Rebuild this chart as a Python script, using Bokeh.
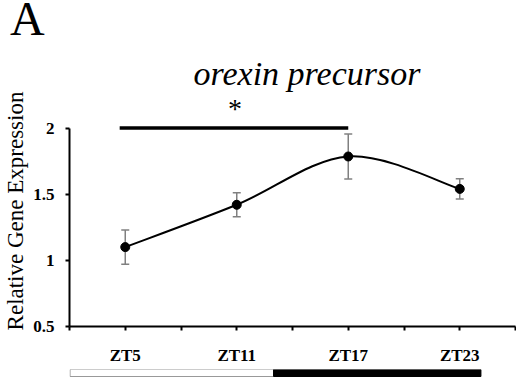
import numpy as np
from bokeh.plotting import figure
from bokeh.models import (ColumnDataSource, Whisker, TeeHead, Label, FixedTicker,
                          NumeralTickFormatter, Range1d, Title, Div)
from bokeh.layouts import column
from bokeh.embed import file_html
from bokeh.resources import INLINE

# ---------------- data ----------------
timepoints = ["ZT5", "ZT11", "ZT17", "ZT23"]
expression = [1.10, 1.42, 1.785, 1.54]
sem = [0.13, 0.09, 0.17, 0.077]
y_ticks = [0.5, 1.0, 1.5, 2.0]
sig_pair = ("ZT5", "ZT17")
sig_label = "*"
title_text = "orexin precursor"
panel_letter = "A"
y_label = "Relative Gene Expression"
# light / dark schedule bar (in the x units of the time axis)
ld_phase = ["light", "dark"]
ld_start = [0.01, 3.66]
ld_end = [3.66, 7.38]

FONT = "Liberation Serif"
W = 516

n = len(timepoints)
xs = [2 * i + 1 for i in range(n)]
lower = [e - s for e, s in zip(expression, sem)]
upper = [e + s for e, s in zip(expression, sem)]

# ---- panel letter ----
letter = Div(text=panel_letter, width=W, height=45,
             styles={"font-family": FONT, "font-size": "48px", "line-height": "38px",
                     "padding-left": "10px", "margin": "0", "color": "black",
                     "background-color": "white"})

# ---- main chart ----
p = figure(width=W, height=322, x_range=Range1d(0, 2 * n), y_range=Range1d(0.5, 2.246),
           output_backend="svg", toolbar_location=None,
           min_border_left=67, min_border_right=1, min_border_top=50, min_border_bottom=38)
p.grid.visible = False
p.outline_line_color = None
p.background_fill_color = "white"
p.border_fill_color = "white"

p.add_layout(Title(text=title_text, text_font=FONT, text_font_style="italic",
                   text_font_size="34px", text_color="black", align="left", offset=124,
                   standoff=8), "above")

# smooth (Excel-like) curve through the points via cubic Beziers
P = np.column_stack([xs, expression]).astype(float)
x0, y0, x1, y1, cx0, cy0, cx1, cy1 = ([] for _ in range(8))
for i in range(n - 1):
    pm = P[i - 1] if i > 0 else P[i]
    pp = P[i + 2] if i + 2 < n else P[i + 1]
    c1 = P[i] + (P[i + 1] - pm) / 6.0
    c2 = P[i + 1] - (pp - P[i]) / 6.0
    x0.append(P[i, 0]); y0.append(P[i, 1]); x1.append(P[i + 1, 0]); y1.append(P[i + 1, 1])
    cx0.append(c1[0]); cy0.append(c1[1]); cx1.append(c2[0]); cy1.append(c2[1])
p.bezier(x0=x0, y0=y0, x1=x1, y1=y1, cx0=cx0, cy0=cy0, cx1=cx1, cy1=cy1,
         line_color="black", line_width=2)

src = ColumnDataSource(dict(x=xs, y=expression, lo=lower, hi=upper))
w = Whisker(source=src, base="x", lower="lo", upper="hi", line_color="#808080", line_width=1.5,
            upper_head=TeeHead(size=8, line_color="#808080", line_width=1.5),
            lower_head=TeeHead(size=8, line_color="#808080", line_width=1.5))
p.add_layout(w)
p.scatter("x", "y", source=src, size=9, color="black")

# significance bar
i0, i1 = timepoints.index(sig_pair[0]), timepoints.index(sig_pair[1])
p.line([xs[i0] - 0.1, xs[i1]], [y_ticks[-1], y_ticks[-1]], line_color="black", line_width=3.5)
p.add_layout(Label(x=(xs[i0] + xs[i1]) / 2 - 0.03, y=2.15, text=sig_label, text_font=FONT,
                   text_font_size="28px", text_color="black", text_align="center",
                   text_baseline="middle"))

# axes
ya = p.yaxis[0]
ya.ticker = FixedTicker(ticks=y_ticks)
ya.formatter = NumeralTickFormatter(format="0.[0]")
ya.bounds = (y_ticks[0], y_ticks[-1])
ya.axis_line_width = 2
ya.major_tick_line_width = 2
ya.major_tick_out = 4
ya.major_tick_in = 0
ya.minor_tick_line_color = None
ya.major_label_text_font = FONT
ya.major_label_text_font_style = "bold"
ya.major_label_text_font_size = "17px"
ya.major_label_text_color = "black"
ya.major_label_standoff = 11
ya.axis_label = y_label
ya.axis_label_text_font = FONT
ya.axis_label_text_font_style = "normal"
ya.axis_label_text_font_size = "23px"
ya.axis_label_text_color = "black"
ya.axis_label_standoff = 2

xa = p.xaxis[0]
xa.ticker = FixedTicker(ticks=list(range(0, 2 * n + 1)))
xa.major_label_overrides = {t: "" for t in range(0, 2 * n + 1)}
xa.major_label_overrides.update({x: t for x, t in zip(xs, timepoints)})
xa.axis_line_width = 2
xa.major_tick_line_width = 2
xa.major_tick_out = 4
xa.major_tick_in = 0
xa.minor_tick_line_color = None
xa.major_label_text_font = FONT
xa.major_label_text_font_style = "bold"
xa.major_label_text_font_size = "17px"
xa.major_label_text_color = "black"
xa.major_label_standoff = 15

# ---- light/dark bar ----
f2 = figure(width=W, height=10, x_range=p.x_range, y_range=Range1d(0, 10),
            output_backend="svg", toolbar_location=None, x_axis_location=None, y_axis_location=None,
            min_border_left=67, min_border_right=1, min_border_top=0, min_border_bottom=0)
f2.grid.visible = False
f2.outline_line_color = None
ld_src = ColumnDataSource(dict(left=ld_start, right=ld_end, phase=ld_phase,
                               fill=["white" if ph == "light" else "black" for ph in ld_phase],
                               edge=["#999999" if ph == "light" else "black" for ph in ld_phase]))
f2.quad(left="left", right="right", bottom=3, top=10, source=ld_src,
        fill_color="fill", line_color="edge", line_width=1)

layout = column(letter, p, f2, spacing=0)
open("out.html", "w").write(file_html(layout, INLINE))
